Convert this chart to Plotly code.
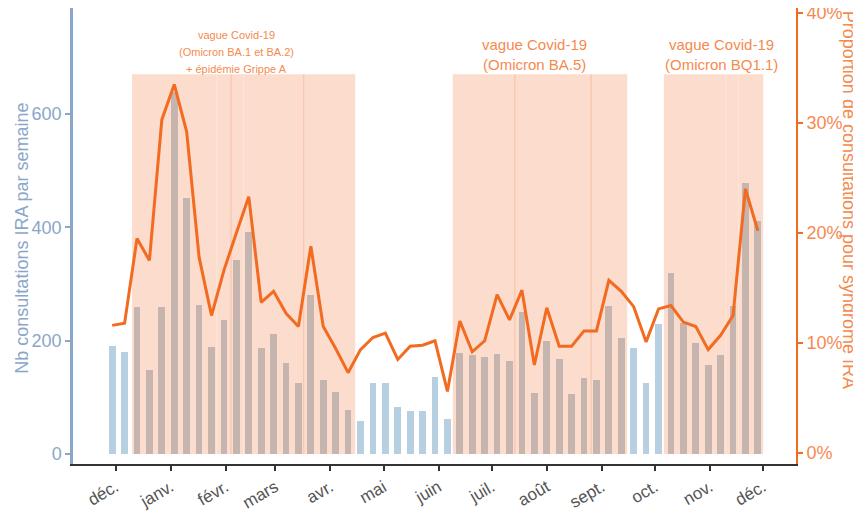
import pandas as pd
import plotly.graph_objects as go

# ---------------- data ----------------
week_start = "2021-11-29"
n_weeks = 53
weeks = pd.date_range(week_start, periods=n_weeks, freq="7D")

nb_consult = [190, 180, 260, 148, 260, 638, 451, 263, 189, 236, 342, 392, 187, 212,
              160, 125, 280, 130, 110, 78, 58, 125, 125, 83, 76, 76, 136, 62,
              178, 175, 171, 177, 164, 251, 108, 200, 167, 106, 134, 130, 262, 205,
              187, 125, 229, 319, 231, 196, 157, 175, 261, 478, 411]

pct_ira = [11.6, 11.8, 19.5, 17.5, 30.3, 33.5, 29.2, 17.8, 12.5, 16.6, 20.0, 23.3, 13.7,
           14.7, 12.7, 11.5, 18.8, 11.5, 9.5, 7.3, 9.4, 10.5, 10.9, 8.5, 9.7, 9.8,
           10.2, 5.6, 12.0, 9.2, 10.2, 14.4, 12.1, 14.8, 8.0, 13.2, 9.7, 9.7, 11.1,
           11.1, 15.7, 14.7, 13.3, 10.1, 13.1, 13.4, 11.9, 11.5, 9.4, 10.7, 12.5,
           24.0, 20.2]

period_starts = ["2021-12-10 05:00", "2022-06-09 00:00", "2022-10-06 00:00"]
period_ends = ["2022-04-15 00:00", "2022-09-15 08:00", "2022-12-01 00:00"]
period_top = 670

period_labels = [
    ["vague Covid-19", "(Omicron BA.1 et BA.2)", "+ épidémie Grippe A"],
    ["vague Covid-19", "(Omicron BA.5)"],
    ["vague Covid-19", "(Omicron BQ1.1)"],
]

month_ticks = pd.date_range("2021-12-01", "2022-12-01", freq="MS")
month_labels = ["déc.", "janv.", "févr.", "mars", "avr.", "mai", "juin",
                "juil.", "août", "sept.", "oct.", "nov.", "déc."]

left_ticks = [0, 200, 400, 600]
right_ticks = [0, 10, 20, 30, 40]
right_labels = ["0%", "10%", "20%", "30%", "40%"]

seam_dark = ["2022-02-04", "2022-03-17", "2022-07-14", "2022-08-26"]
seam_light = ["2022-01-27", "2022-02-11", "2022-11-10", "2022-11-17"]

# ---------------- styles ----------------
BLUE_BAR = "#b6cfe1"
GREY_BAR = "#c6b4af"
SHADE = "#fbdccd"
LINE_OR = "#f26b21"
AX_BLUE = "#8aa6c9"
TXT_OR = "#f58a4f"
FONT = "Liberation Sans, Arial, sans-serif"

ps = pd.to_datetime(period_starts, format="%Y-%m-%d %H:%M")
pe = pd.to_datetime(period_ends, format="%Y-%m-%d %H:%M")


def in_period(d):
    return any((d >= s) and (d <= e) for s, e in zip(ps, pe))


bar_colors = [GREY_BAR if in_period(d) else BLUE_BAR for d in weeks]

fig = go.Figure()

fig.add_trace(go.Bar(
    x=weeks, y=nb_consult, marker_color=bar_colors, marker_line_width=0,
    width=3.8 * 86400000, yaxis="y", showlegend=False,
))
fig.add_trace(go.Scatter(
    x=weeks, y=pct_ira, mode="lines", line=dict(color=LINE_OR, width=3),
    yaxis="y2", showlegend=False,
))

shapes = []
for s, e in zip(period_starts, period_ends):
    shapes.append(dict(type="rect", xref="x", yref="y", x0=s, x1=e, y0=0, y1=period_top,
                       fillcolor=SHADE, line_width=0, layer="below"))
for d in seam_dark:
    shapes.append(dict(type="line", xref="x", yref="y", x0=d, x1=d, y0=0, y1=period_top,
                       line=dict(color="#f5c2a6", width=1), layer="below"))
for d in seam_light:
    shapes.append(dict(type="line", xref="x", yref="y", x0=d, x1=d, y0=0, y1=period_top,
                       line=dict(color="#fde6da", width=1), layer="below"))

annotations = []
lab_x = ["2022-02-07", "2022-07-25", "2022-11-07 12:00"]
lab_size = [11, 15, 15]
lab_y0 = [740, 722, 722]
lab_dy = [30, 35, 35]
for lines, xc, fs, y0, dy in zip(period_labels, lab_x, lab_size, lab_y0, lab_dy):
    for k, t in enumerate(lines):
        annotations.append(dict(x=xc, y=y0 - k * dy, xref="x", yref="y", text=t,
                                showarrow=False, xanchor="center", yanchor="middle",
                                font=dict(family=FONT, size=fs, color=TXT_OR)))

annotations.append(dict(x=-0.07, y=0.495, xref="paper", yref="paper",
                        text="Nb consultations IRA par semaine", textangle=-90,
                        showarrow=False, xanchor="center", yanchor="middle",
                        font=dict(family=FONT, size=18, color=AX_BLUE)))
annotations.append(dict(x=1.0735, y=0.579, xref="paper", yref="paper",
                        text="Proportion de consultations pour syndrome IRA", textangle=90,
                        showarrow=False, xanchor="center", yanchor="middle",
                        font=dict(family=FONT, size=18, color=TXT_OR)))

fig.update_layout(
    width=853, height=509,
    margin=dict(l=65, r=65, t=0, b=53, autoexpand=False),
    plot_bgcolor="white", paper_bgcolor="white",
    font=dict(family=FONT),
    bargap=0,
    shapes=shapes,
    annotations=annotations,
    xaxis=dict(
        type="date", automargin=False,
        range=["2021-11-06 22:00", "2022-12-19 12:00"],
        tickvals=month_ticks, ticktext=month_labels, tickangle=-30,
        tickfont=dict(size=17, color="#555555"),
        ticks="outside", ticklen=5, tickwidth=1.5, tickcolor="#333333",
        showline=True, linecolor="#333333", linewidth=1.5,
        showgrid=False, zeroline=False,
    ),
    yaxis=dict(
        automargin=False,
        range=[-17.6, 787],
        tickvals=left_ticks,
        tickfont=dict(size=18, color=AX_BLUE),
        ticks="outside", ticklen=5, tickwidth=1.5, tickcolor=AX_BLUE,
        showline=True, linecolor=AX_BLUE, linewidth=2.5,
        showgrid=False, zeroline=False,
    ),
    yaxis2=dict(
        overlaying="y", side="right", automargin=False,
        range=[-1.0, 40.45],
        tickvals=right_ticks, ticktext=right_labels,
        ticklabeloverflow="allow",
        tickfont=dict(size=18, color=TXT_OR),
        ticks="outside", ticklen=5, tickwidth=1.5, tickcolor=LINE_OR,
        showline=True, linecolor=LINE_OR, linewidth=2,
        showgrid=False, zeroline=False,
    ),
)

fig.write_html("out.html")
